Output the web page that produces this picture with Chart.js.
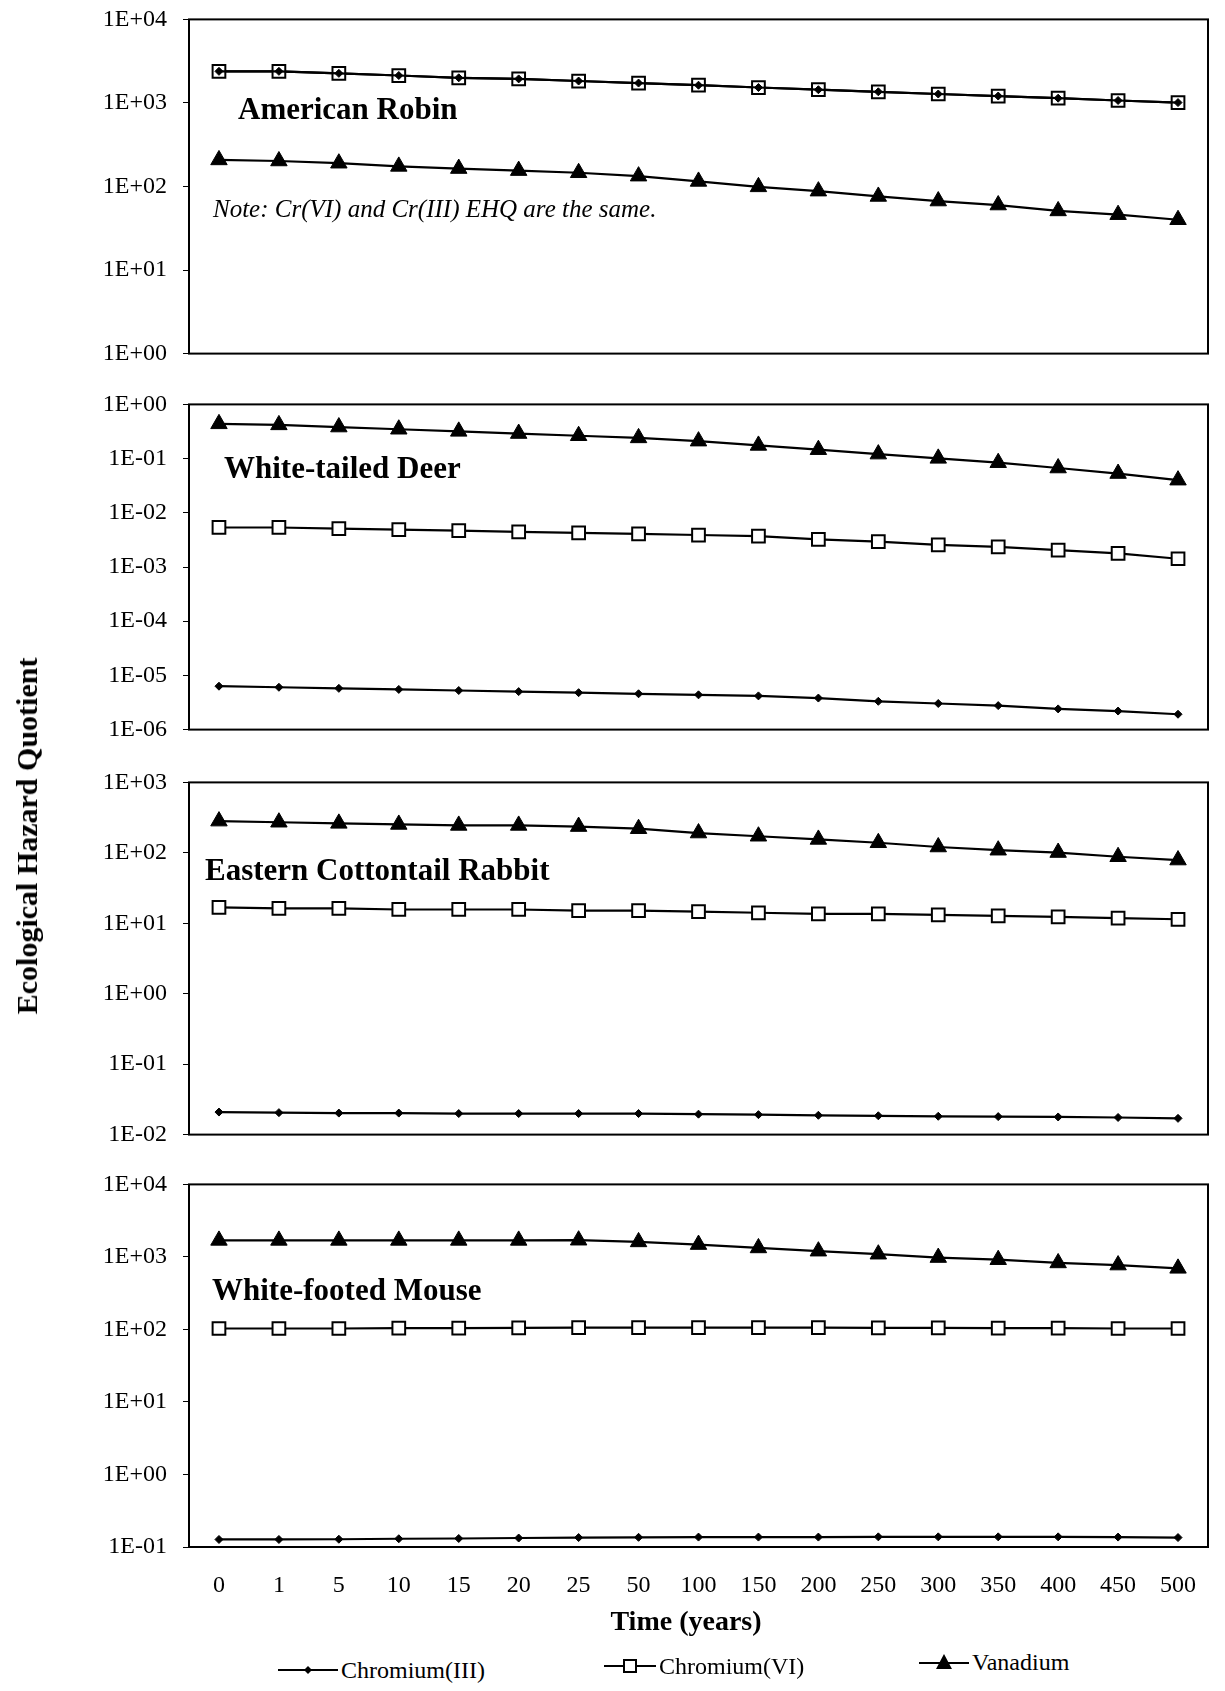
<!DOCTYPE html>
<html lang="en">
<head>
<meta charset="utf-8">
<title>Ecological Hazard Quotient</title>
<script src="https://cdn.jsdelivr.net/npm/chart.js@4.4.1/dist/chart.umd.min.js"></script>
<style>
  html, body { margin: 0; padding: 0; background: #fff; }
  body {
    width: 1225px; height: 1691px; position: relative; overflow: hidden;
    font-family: "Liberation Serif", "DejaVu Serif", serif; color: #000;
  }
  canvas { position: absolute; left: 0; }
  .label { position: absolute; white-space: nowrap; line-height: 1; transform: translateY(-50%); }
  .panel-name { font-weight: bold; font-size: 31px; }
  .note { font-style: italic; font-size: 25px; }
  #yTitle {
    position: absolute; left: 27px; top: 836px; white-space: nowrap;
    font-weight: bold; font-size: 30px; line-height: 1;
    transform: translate(-50%, -50%) rotate(-90deg);
  }
  #xTitle {
    position: absolute; left: 686px; top: 1621px; white-space: nowrap;
    font-weight: bold; font-size: 28px; line-height: 1;
    transform: translate(-50%, -50%);
  }
  .legend-item {
    position: absolute; display: flex; align-items: center; gap: 3px;
    font-size: 24px; line-height: 1; white-space: nowrap; transform: translateY(-50%);
  }
</style>
</head>
<body>

<canvas id="robinChart"></canvas>
<canvas id="deerChart"></canvas>
<canvas id="rabbitChart"></canvas>
<canvas id="mouseChart"></canvas>

<div class="label panel-name" style="left:238px; top:108px;">American Robin</div>
<div class="label note" style="left:213px; top:208px;">Note: Cr(VI) and Cr(III) EHQ are the same.</div>
<div class="label panel-name" style="left:224px; top:467px;">White-tailed Deer</div>
<div class="label panel-name" style="left:205px; top:869px;">Eastern Cottontail Rabbit</div>
<div class="label panel-name" style="left:212px; top:1289px;">White-footed Mouse</div>

<div id="yTitle">Ecological Hazard Quotient</div>
<div id="xTitle">Time (years)</div>

<div class="legend-item" style="left:278px; top:1670px;">
  <svg width="60" height="20"><line x1="0" y1="10" x2="60" y2="10" stroke="#000" stroke-width="2"/><polygon points="30,6 34,10 30,14 26,10" fill="#000"/></svg>
  <span>Chromium(III)</span>
</div>
<div class="legend-item" style="left:604px; top:1666px;">
  <svg width="52" height="20"><line x1="0" y1="10" x2="52" y2="10" stroke="#000" stroke-width="2"/><rect x="20" y="4" width="12" height="12" fill="#fff" stroke="#000" stroke-width="2"/></svg>
  <span>Chromium(VI)</span>
</div>
<div class="legend-item" style="left:919px; top:1662px;">
  <svg width="50" height="20"><line x1="0" y1="11" x2="50" y2="11" stroke="#000" stroke-width="2"/><polygon points="25,2 33,17 17,17" fill="#000"/></svg>
  <span>Vanadium</span>
</div>

<script>
// --- Data ---
const years = ['0', '1', '5', '10', '15', '20', '25', '50', '100', '150', '200', '250', '300', '350', '400', '450', '500'];

const robinTicks = ['1E+00', '1E+01', '1E+02', '1E+03', '1E+04'];
const robinCr3 = [2390, 2390, 2260, 2130, 2000, 1940, 1830, 1730, 1630, 1530, 1440, 1360, 1280, 1210, 1140, 1070, 1010];
const robinCr6 = [2390, 2390, 2260, 2130, 2000, 1940, 1830, 1730, 1630, 1530, 1440, 1360, 1280, 1210, 1140, 1070, 1010];
const robinV   = [208, 202, 190, 174, 164, 155, 146, 133, 115, 99, 88, 76, 67, 60, 51, 46, 40];

const deerTicks = ['1E-06', '1E-05', '1E-04', '1E-03', '1E-02', '1E-01', '1E+00'];
const deerCr3 = [6.32e-6, 6.04e-6, 5.77e-6, 5.51e-6, 5.26e-6, 5.02e-6, 4.80e-6, 4.58e-6, 4.38e-6, 4.19e-6, 3.82e-6, 3.33e-6, 3.03e-6, 2.77e-6, 2.41e-6, 2.20e-6, 1.92e-6];
const deerCr6 = [0.00536, 0.00536, 0.00512, 0.00489, 0.00467, 0.00446, 0.00426, 0.00407, 0.00389, 0.00371, 0.00324, 0.00295, 0.00257, 0.00235, 0.00205, 0.00178, 0.00142];
const deerV   = [0.438, 0.419, 0.382, 0.348, 0.318, 0.290, 0.264, 0.241, 0.210, 0.175, 0.146, 0.121, 0.101, 0.084, 0.067, 0.053, 0.040];

const rabbitTicks = ['1E-02', '1E-01', '1E+00', '1E+01', '1E+02', '1E+03'];
const rabbitCr3 = [0.0209, 0.0205, 0.0202, 0.0202, 0.0199, 0.0199, 0.0199, 0.0199, 0.0195, 0.0192, 0.0188, 0.0185, 0.0182, 0.0180, 0.0178, 0.0175, 0.0170];
const rabbitCr6 = [16.8, 16.3, 16.3, 15.7, 15.7, 15.7, 15.1, 15.1, 14.6, 14.1, 13.6, 13.6, 13.2, 12.7, 12.3, 11.8, 11.4];
const rabbitV   = [282, 272, 262, 253, 245, 245, 236, 220, 191, 172, 155, 139, 121, 109, 101, 88, 79];

const mouseTicks = ['1E-01', '1E+00', '1E+01', '1E+02', '1E+03', '1E+04'];
const mouseCr3 = [0.127, 0.127, 0.128, 0.130, 0.131, 0.133, 0.135, 0.136, 0.137, 0.137, 0.137, 0.138, 0.138, 0.138, 0.138, 0.137, 0.135];
const mouseCr6 = [103, 103, 103, 104, 104, 105, 106, 106, 106, 106, 106, 105, 105, 104, 104, 103, 103];
const mouseV   = [1690, 1690, 1690, 1690, 1690, 1690, 1700, 1610, 1480, 1330, 1200, 1090, 980, 915, 826, 772, 696];

// --- Layout ---
const PAGE_W = 1225;
const PLOT_LEFT = 189;
const PLOT_RIGHT = 1208;
const PAD = 16;
const X_AXIS_H = 62;
const FONT = '"Liberation Serif", "DejaVu Serif", serif';

// black frame around each plot area
const framePlugin = {
    id: 'frame',
    beforeDatasetsDraw(chart) {
        const { ctx, chartArea: a } = chart;
        ctx.save();
        ctx.strokeStyle = '#000';
        ctx.lineWidth = 2;
        ctx.strokeRect(a.left, a.top, a.right - a.left, a.bottom - a.top);
        ctx.restore();
    }
};

function panelConfig(tickLabels, cr3, cr6, vanadium, showYears) {
    const line = { borderColor: '#000', borderWidth: 2.2, tension: 0, pointBorderColor: '#000' };
    return {
        type: 'line',
        data: {
            labels: years,
            datasets: [
                { ...line, label: 'Chromium(III)', data: cr3, pointStyle: 'rectRot', pointRadius: 4,
                  pointBackgroundColor: '#000', pointBorderWidth: 1 },
                { ...line, label: 'Chromium(VI)', data: cr6, pointStyle: 'rect', pointRadius: 9,
                  pointBackgroundColor: '#fff', pointBorderWidth: 2 },
                { ...line, label: 'Vanadium', data: vanadium, pointStyle: 'triangle', pointRadius: 9.5,
                  pointBackgroundColor: '#000', pointBorderWidth: 1 }
            ]
        },
        options: {
            responsive: false,
            maintainAspectRatio: false,
            animation: false,
            devicePixelRatio: 1,
            layout: { padding: { top: PAD, bottom: PAD, left: 0, right: PAGE_W - PLOT_RIGHT } },
            plugins: { legend: { display: false }, tooltip: { enabled: false } },
            scales: {
                x: {
                    display: showYears,
                    offset: true,
                    grid: { display: false, drawTicks: false },
                    border: { display: false },
                    ticks: { color: '#000', font: { family: FONT, size: 24 }, padding: 24, maxRotation: 0, autoSkip: false },
                    afterFit: s => { if (showYears) s.height = X_AXIS_H; }
                },
                y: {
                    type: 'logarithmic',
                    min: Number(tickLabels[0]),
                    max: Number(tickLabels[tickLabels.length - 1]),
                    grid: { display: true, drawOnChartArea: false, drawTicks: true, tickLength: 6, color: '#000', lineWidth: 1 },
                    border: { display: false },
                    ticks: {
                        color: '#000',
                        font: { family: FONT, size: 24 },
                        padding: 16,
                        callback: (v, i) => tickLabels[i]
                    },
                    afterBuildTicks: s => { s.ticks = tickLabels.map(t => ({ value: Number(t) })); },
                    afterFit: s => { s.width = PLOT_LEFT; }
                }
            }
        },
        plugins: [framePlugin]
    };
}

// builds a panel whose plot frame spans top..bottom on the page
function makePanel(id, top, bottom, tickLabels, cr3, cr6, vanadium, showYears) {
    const canvas = document.getElementById(id);
    canvas.width = PAGE_W;
    canvas.height = bottom - top + 2 * PAD + (showYears ? X_AXIS_H : 0);

    let chart = new Chart(canvas, panelConfig(tickLabels, cr3, cr6, vanadium, showYears));
    const area = chart.chartArea;
    const extra = (bottom - top) - (area.bottom - area.top);
    if (Math.abs(extra) > 0.5) {
        // the layout ate some room (point overflow, label padding): grow the canvas and redo
        chart.destroy();
        canvas.width = PAGE_W;
        canvas.height = Math.round(canvas.height + extra);
        chart = new Chart(canvas, panelConfig(tickLabels, cr3, cr6, vanadium, showYears));
    }
    canvas.style.top = (top - chart.chartArea.top) + 'px';
    return chart;
}

makePanel('robinChart', 19, 353, robinTicks, robinCr3, robinCr6, robinV, false);
makePanel('deerChart', 404, 729, deerTicks, deerCr3, deerCr6, deerV, false);
makePanel('rabbitChart', 782, 1134, rabbitTicks, rabbitCr3, rabbitCr6, rabbitV, false);
makePanel('mouseChart', 1184, 1547, mouseTicks, mouseCr3, mouseCr6, mouseV, true);
</script>
</body>
</html>
